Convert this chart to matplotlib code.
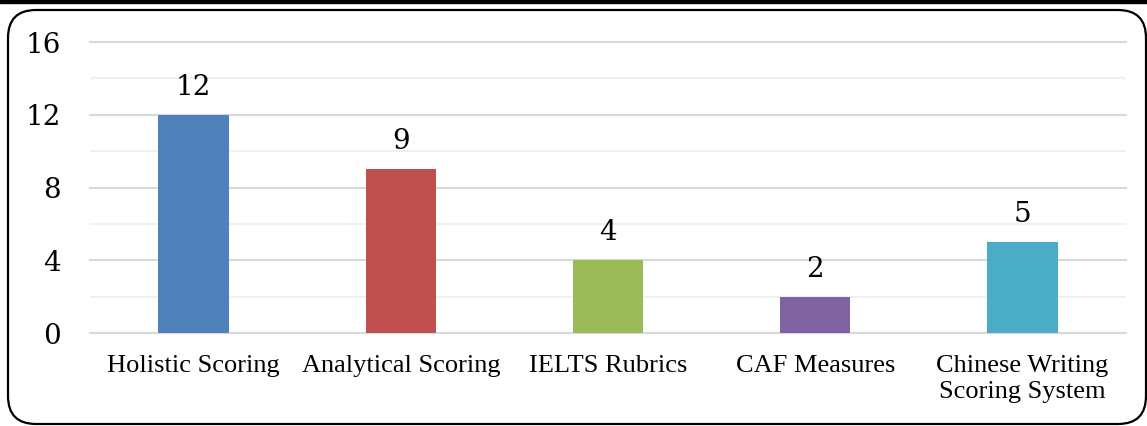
import matplotlib
matplotlib.use("Agg")
import matplotlib.pyplot as plt
from matplotlib.patches import FancyBboxPatch, Rectangle
from matplotlib.transforms import IdentityTransform

categories = ["Holistic Scoring", "Analytical Scoring", "IELTS Rubrics", "CAF Measures",
              "Chinese Writing\nScoring System"]
values = [12, 9, 4, 2, 5]
colors = ["#4F81BD", "#C0504D", "#9BBB59", "#8064A2", "#4BACC6"]
yticks = [0, 4, 8, 12, 16]
yminor = [2, 6, 10, 14]

W, H = 1147, 426
fig = plt.figure(figsize=(W / 100, H / 100), dpi=100)
fig.patch.set_facecolor("white")

ax = fig.add_axes([90 / W, 93 / H, (1126 - 90) / W, (384 - 93) / H])
x = list(range(len(categories)))
ax.bar(x, values, width=0.34, color=colors, zorder=3)
ax.set_xlim(-0.5, len(categories) - 0.5)
ax.set_ylim(0, 16)

for v in yminor:
    ax.axhline(v, color="#f0f0f0", lw=1.5, zorder=1)
for v in yticks:
    ax.axhline(v, color="#d9d9d9", lw=1.5, zorder=2, clip_on=False)

for xi, v in zip(x, values):
    ax.annotate(str(v), (xi, v), xytext=(0, 10), textcoords="offset points",
                ha="center", va="bottom", fontsize=20, family="DejaVu Serif",
                color="black")

ax.set_yticks(yticks)
ax.set_yticklabels([str(t) for t in yticks], fontsize=20, family="DejaVu Serif")
ax.set_xticks(x)
ax.set_xticklabels(categories, fontsize=19, family="Liberation Serif", linespacing=1.2)
ax.tick_params(axis="y", length=0, pad=21)
ax.tick_params(axis="x", length=0, pad=16)
for s in ax.spines.values():
    s.set_visible(False)

# rounded border box
box = FancyBboxPatch((8, 2), 1138, 414, boxstyle="round,pad=0,rounding_size=28",
                     transform=IdentityTransform(), fill=False, edgecolor="black",
                     lw=1.6, figure=fig)
fig.patches.append(box)
bar = Rectangle((0, 423), W, 4, transform=IdentityTransform(), color="black", figure=fig)
fig.patches.append(bar)

fig.savefig("out.png", dpi=100)
